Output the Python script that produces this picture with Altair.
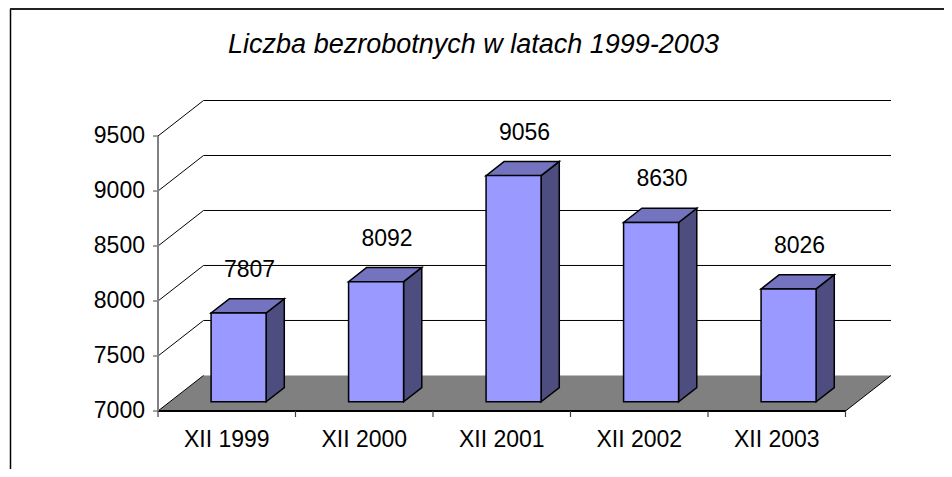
import altair as alt
import pandas as pd

# ---- data ----
categories = ["XII 1999", "XII 2000", "XII 2001", "XII 2002", "XII 2003"]
values = [7807, 8092, 9056, 8630, 8026]
y_ticks = [7000, 7500, 8000, 8500, 9000, 9500]
x_ticks = [0, 1, 2, 3, 4, 5]
title_text = "Liczba bezrobotnych w latach 1999-2003"

# ---- pseudo-3D geometry (in scale units) ----
BASE = 7000
DX = 0.331      # depth shift along x (category units)
DY = 323        # depth shift along y (value units)
F0, F1 = 0.26, 0.66   # front / back depth fraction of bars
BW = 0.4        # bar width (category units)
XMAX = 5 + DX
YMAX = 9823

FONT = "Liberation Sans"
FRONT = "#9999FF"
TOP = "#7373BF"
SIDE = "#4D4D80"

xs = alt.Scale(domain=[0, XMAX], nice=False, zero=False)
ys = alt.Scale(domain=[BASE, YMAX], nice=False, zero=False)

# derived tables
front = pd.DataFrame({
    "cat": categories,
    "x0": [i + 0.5 - BW / 2 + F0 * DX for i in range(5)],
    "x1": [i + 0.5 + BW / 2 + F0 * DX for i in range(5)],
    "y0": [BASE + F0 * DY] * 5,
    "y1": [v + F0 * DY for v in values],
    "val": values,
    "lx": [i + 0.5 + 0.5 * DX for i in range(5)],
})
side_rows, top_rows = [], []
for i, (c, v) in enumerate(zip(categories, values)):
    for f in (F0, F1):
        side_rows.append({"cat": c, "x": i + 0.5 + BW / 2 + f * DX,
                          "yt": v + f * DY, "yb": BASE + f * DY})
        top_rows.append({"cat": c, "y": v + f * DY,
                         "xl": i + 0.5 - BW / 2 + f * DX,
                         "xr": i + 0.5 + BW / 2 + f * DX})
side = pd.DataFrame(side_rows)
top = pd.DataFrame(top_rows)
floor = pd.DataFrame({"y": [BASE, BASE + DY], "xl": [0, DX], "xr": [5, 5 + DX]})
grid_back = pd.DataFrame({"y": [v + DY for v in y_ticks[1:]],
                          "x": [DX] * 5, "x2": [5 + DX] * 5})
diag = pd.DataFrame({"x": [0] * 6 + [5], "y": y_ticks + [BASE],
                     "x2": [DX] * 6 + [5 + DX],
                     "y2": [v + DY for v in y_ticks] + [BASE + DY]})
ytk = pd.DataFrame({"v": y_ticks, "x": [0] * 6})
xtk = pd.DataFrame({"x": x_ticks, "y": [BASE] * 6})
xlab = pd.DataFrame({"cat": categories, "x": [i + 0.5 for i in range(5)], "y": [BASE] * 5})
one = pd.DataFrame({"t": [title_text]})


def X(f):
    return alt.X(f, scale=xs, axis=None)


def Y(f):
    return alt.Y(f, scale=ys, axis=None)


floor_layer = alt.Chart(floor).mark_area(orient="horizontal", fill="#808080").encode(
    y=Y("y:Q"), x=X("xl:Q"), x2="xr:Q")

grid_layer = alt.Chart(grid_back).mark_rule(color="black", strokeWidth=1).encode(
    x=X("x:Q"), x2="x2:Q", y=Y("y:Q"))

diag_layer = alt.Chart(diag).mark_rule(color="black", strokeWidth=1).encode(
    x=X("x:Q"), x2="x2:Q", y=Y("y:Q"), y2="y2:Q")

xaxis_line = alt.Chart(xtk).mark_rule(color="black", strokeWidth=1.5).encode(
    x=alt.datum(0, scale=xs, axis=None), x2=alt.datum(5), y=alt.datum(BASE, scale=ys, axis=None))
yaxis_line = alt.Chart(ytk).mark_rule(color="#808080", strokeWidth=1.5).encode(
    x=alt.datum(0, scale=xs, axis=None), y=alt.datum(BASE, scale=ys, axis=None),
    y2=alt.datum(9500))

y_tick_marks = alt.Chart(ytk).mark_rule(color="#808080", strokeWidth=1.5, x2Offset=-5).encode(
    x=X("x:Q"), x2="x:Q", y=Y("v:Q"))
y_tick_labels = alt.Chart(ytk).mark_text(font=FONT, fontSize=23, color="black", align="right",
                                         baseline="middle", dx=-13).encode(
    x=X("x:Q"), y=Y("v:Q"), text=alt.Text("v:Q", format="d"))
x_tick_marks = alt.Chart(xtk).mark_rule(color="#404040", strokeWidth=1.2, y2Offset=6).encode(
    x=X("x:Q"), y=Y("y:Q"), y2="y:Q")

side_layer = alt.Chart(side).mark_area(orient="vertical", fill=SIDE, stroke="black",
                                       strokeWidth=1.5, strokeJoin="miter").encode(
    x=X("x:Q"), y=Y("yt:Q"), y2="yb:Q", detail="cat:N")
top_layer = alt.Chart(top).mark_area(orient="horizontal", fill=TOP, stroke="black",
                                     strokeWidth=1.5, strokeJoin="miter").encode(
    y=Y("y:Q"), x=X("xl:Q"), x2="xr:Q", detail="cat:N")
front_layer = alt.Chart(front).mark_rect(fill=FRONT, stroke="black", strokeWidth=1.5).encode(
    x=X("x0:Q"), x2="x1:Q", y=Y("y0:Q"), y2="y1:Q")

val_labels = alt.Chart(front).mark_text(font=FONT, fontSize=23, color="black", dy=-36,
                                        baseline="alphabetic", align="center").encode(
    x=X("lx:Q"), y=Y("y1:Q"), text=alt.Text("val:Q", format="d"))

x_labels = alt.Chart(xlab).mark_text(font=FONT, fontSize=23, color="black", dy=36,
                                     baseline="alphabetic", align="center").encode(
    x=X("x:Q"), y=Y("y:Q"), text="cat:N")

title_mark = alt.Chart(one).mark_text(font=FONT, fontSize=27, fontStyle="italic", color="black",
                                      align="center", baseline="alphabetic").encode(
    x=alt.value(315.5), y=alt.value(-47.5), text="t:N")

frame_left = alt.Chart(one).mark_rule(color="black", strokeWidth=1.5).encode(
    x=alt.value(-147.5), y=alt.value(-91.5), y2=alt.value(420))
frame_top = alt.Chart(one).mark_rule(color="#222222", strokeWidth=2).encode(
    x=alt.value(-148), x2=alt.value(820), y=alt.value(-91.5))

chart = alt.layer(
    floor_layer, grid_layer, diag_layer, xaxis_line, yaxis_line,
    y_tick_marks, y_tick_labels, x_tick_marks,
    side_layer, top_layer, front_layer, val_labels, x_labels,
    title_mark, frame_left, frame_top,
).properties(
    width=733, height=310.5,
    padding={"left": 150, "top": 92.5, "right": 53, "bottom": 58},
    autosize=alt.AutoSizeParams(type="none"),
    background="white",
).configure_view(stroke=None)

chart.save("out.html", embed_options={"renderer": "svg", "actions": False})
